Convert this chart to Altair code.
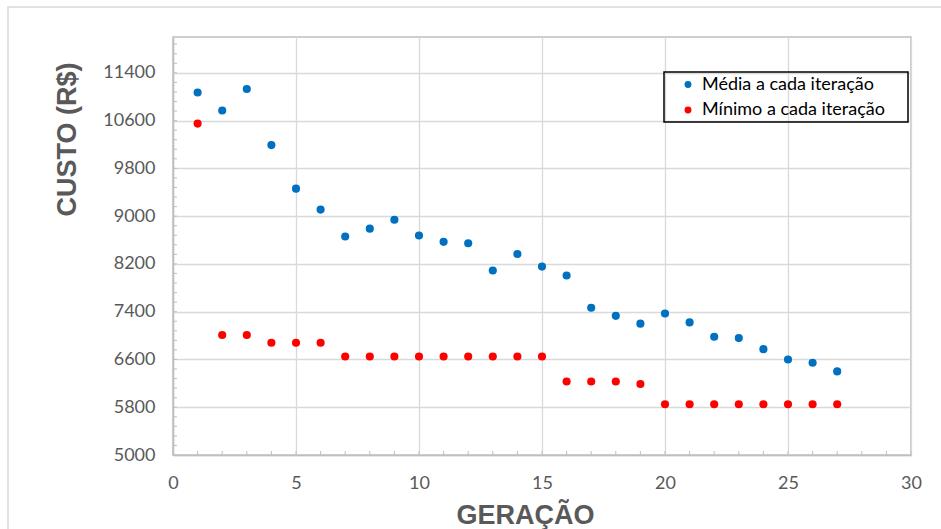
import altair as alt
import pandas as pd

# Generation number and cost per generation for the two series
geracao = list(range(1, 28))
media = [11070, 10770, 11130, 10190, 9460, 9110, 8660, 8790, 8940, 8675,
         8570, 8545, 8090, 8365, 8155, 8005, 7465, 7330, 7200, 7370,
         7220, 6980, 6958, 6773, 6600, 6545, 6400]
minimo = [10550, 7010, 7010, 6880, 6880, 6880, 6650, 6650, 6650, 6650,
          6650, 6650, 6650, 6650, 6650, 6230, 6230, 6230, 6190, 5850,
          5850, 5850, 5850, 5850, 5850, 5850, 5850]

serie_media = "Média a cada iteração"
serie_minimo = "Mínimo a cada iteração"

y_ticks = [5000, 5800, 6600, 7400, 8200, 9000, 9800, 10600, 11400]
x_ticks = [0, 5, 10, 15, 20, 25, 30]
x_minor = list(range(0, 31))
y_minor = list(range(5000, 12001, 160))

W, H = 738, 418
LABEL_FONT = "Lato"
TITLE_FONT = "Liberation Sans"
GRAY_TEXT = "#595959"

df = pd.DataFrame({
    "geracao": geracao * 2,
    "custo": media + minimo,
    "serie": [serie_media] * len(media) + [serie_minimo] * len(minimo),
})

x_scale = alt.Scale(domain=[0, 30], nice=False, zero=False)
y_scale = alt.Scale(domain=[5000, 12000], nice=False, zero=False)

points = alt.Chart(df).mark_circle(size=66, opacity=1).encode(
    x=alt.X("geracao:Q", scale=x_scale,
            axis=alt.Axis(title="GERAÇÃO", values=x_ticks, ticks=False,
                          format="d", labelFlush=False,
                          labelPadding=19, titleX=352, titleY=68,
                          titleBaseline="alphabetic", titleAlign="center")),
    y=alt.Y("custo:Q", scale=y_scale,
            axis=alt.Axis(title="CUSTO (R$)", values=y_ticks, ticks=False,
                          format="d", labelFlush=False,
                          labelPadding=18, titleX=-106, titleY=102,
                          titleAngle=270, titleAlign="center",
                          titleBaseline="middle")),
    color=alt.Color("serie:N",
                    scale=alt.Scale(domain=[serie_media, serie_minimo],
                                    range=["#0070C0", "#FF0000"]),
                    legend=alt.Legend(title=None, orient="none",
                                      legendX=506, legendY=38.5,
                                      padding=0, symbolSize=48,
                                      symbolType="circle",
                                      labelFontSize=18, labelFont=LABEL_FONT,
                                      labelColor="#000000", labelOffset=5,
                                      labelLimit=400, rowPadding=7.5)),
)

# Small inward ticks along the bottom edge
x_minor_ticks = alt.Chart(pd.DataFrame({"v": x_minor})).mark_rule(
    color="#bfbfbf", strokeWidth=1
).encode(x=alt.X("v:Q", scale=x_scale), y=alt.value(H - 4), y2=alt.value(H))

# Small inward ticks along the left edge
y_minor_ticks = alt.Chart(pd.DataFrame({"v": y_minor})).mark_rule(
    color="#bfbfbf", strokeWidth=1
).encode(y=alt.Y("v:Q", scale=y_scale), x=alt.value(0), x2=alt.value(4))

# Frame around the legend entries
legend_box = alt.Chart(pd.DataFrame({"k": [0]})).mark_rect(
    fill=None, stroke="#000000", strokeWidth=1.5
).encode(x=alt.value(491), x2=alt.value(735),
         y=alt.value(35), y2=alt.value(85))

# Outer frame of the chart area
outer_frame = alt.Chart(pd.DataFrame({"k": [0]})).mark_rect(
    fill=None, stroke="#d9d9d9", strokeWidth=1.5
).encode(x=alt.value(-165), x2=alt.value(780),
         y=alt.value(-30), y2=alt.value(500))

chart = alt.layer(
    outer_frame, x_minor_ticks, y_minor_ticks, points, legend_box
).properties(
    width=W, height=H,
    autosize=alt.AutoSizeParams(type="none"),
    padding={"left": 173, "top": 37, "right": 30, "bottom": 74},
    background="white",
).configure_view(
    stroke="#bfbfbf", strokeWidth=1.5
).configure_axis(
    grid=True, gridColor="#d9d9d9", gridWidth=1.3,
    domainColor="#bfbfbf", domainWidth=1.5,
    labelFont=LABEL_FONT, labelFontSize=18, labelColor=GRAY_TEXT,
    titleFont=TITLE_FONT, titleFontSize=27, titleFontWeight="bold",
    titleColor=GRAY_TEXT,
)

chart.save("out.html", embed_options={"renderer": "svg", "actions": False})
